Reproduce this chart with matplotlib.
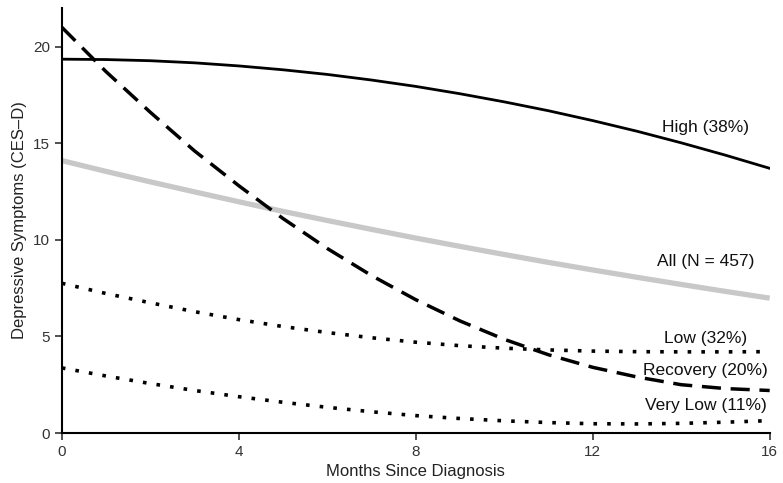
import numpy as np
import matplotlib.pyplot as plt

plt.rcParams['font.family'] = ['Liberation Sans', 'DejaVu Sans']

# months since diagnosis
months = np.arange(0, 17)

# estimated CES-D trajectories
high = [19.35, 19.33, 19.27, 19.16, 19.0, 18.8, 18.56, 18.27, 17.94,
        17.56, 17.14, 16.68, 16.17, 15.62, 15.02, 14.38, 13.7]
all_n = [14.1, 13.54, 13.0, 12.48, 11.97, 11.47, 11.0, 10.54, 10.09,
         9.66, 9.24, 8.83, 8.44, 8.06, 7.69, 7.33, 6.98]
recovery = [21.0, 18.7, 16.6, 14.6, 12.8, 11.1, 9.55, 8.15, 6.9,
            5.8, 4.85, 4.05, 3.4, 2.9, 2.5, 2.3, 2.2]
low = [7.75, 7.22, 6.74, 6.28, 5.87, 5.51, 5.2, 4.93, 4.7,
       4.52, 4.39, 4.3, 4.24, 4.21, 4.2, 4.2, 4.21]
very_low = [3.37, 2.95, 2.56, 2.2, 1.88, 1.59, 1.33, 1.1, 0.9,
            0.75, 0.63, 0.54, 0.48, 0.47, 0.5, 0.56, 0.64]

labels = ["High (38%)", "All (N = 457)", "Low (32%)", "Recovery (20%)", "Very Low (11%)"]
label_y = [15.8, 8.9, 4.9, 3.25, 1.4]

fig = plt.figure(figsize=(7.83, 4.83), dpi=100)
ax = fig.add_axes([0.079, 0.1035, 0.904, 0.88])

ax.plot(months, all_n, color='#c8c8c8', lw=3.8, solid_capstyle='butt')
ax.plot(months, high, color='black', lw=2.0)
ax.plot(months, recovery, color='black', lw=2.5, linestyle=(0, (5.5, 2.8)))
ax.plot(months, low, color='black', lw=2.6, linestyle=(0, (1, 2.8)))
ax.plot(months, very_low, color='black', lw=2.6, linestyle=(0, (1, 2.8)))

for lab, yy in zip(labels, label_y):
    ax.text(14.55, yy, lab, ha='center', va='center', fontsize=12.5, color='#111111')

ax.set_xlim(0, 16)
ax.set_ylim(0, 22)
ax.set_xticks([0, 4, 8, 12, 16])
ax.set_yticks([0, 5, 10, 15, 20])
ax.spines['top'].set_visible(False)
ax.spines['right'].set_visible(False)
ax.spines['left'].set_linewidth(1.5)
ax.spines['bottom'].set_linewidth(1.5)
ax.tick_params(direction='out', length=5, width=1.2, labelsize=11, colors='#333333')
ax.set_xlabel("Months Since Diagnosis", fontsize=12, color='#222222')
ax.set_ylabel("Depressive Symptoms (CES–D)", fontsize=12, color='#222222')

fig.savefig("out.png", dpi=100)
